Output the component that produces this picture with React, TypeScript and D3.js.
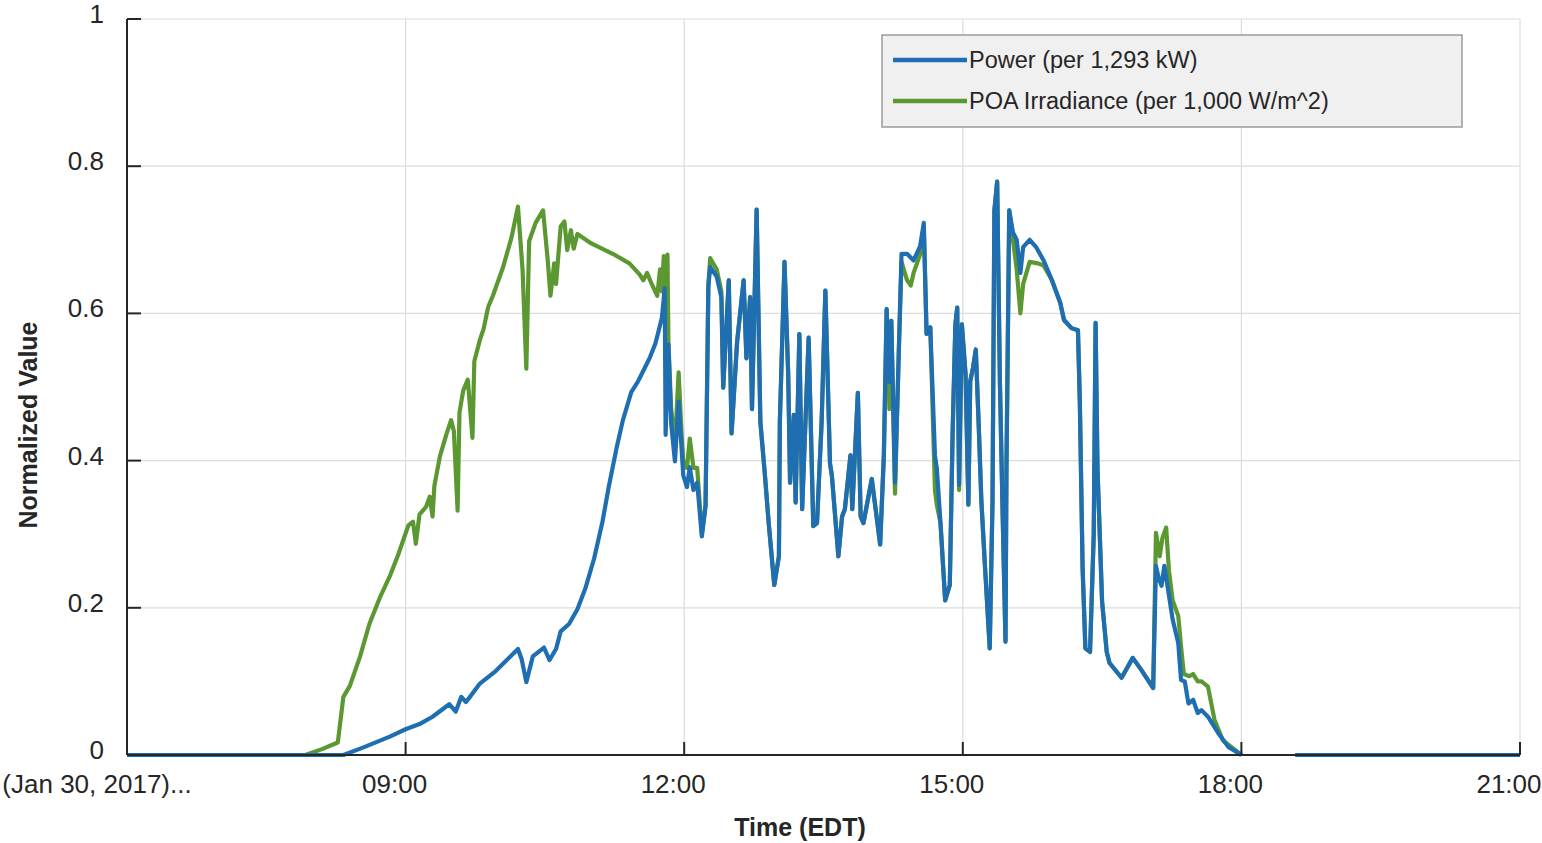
import React, { useEffect, useRef } from 'react'
import * as d3 from 'd3'

const WIDTH = 1542
const HEIGHT = 843
const BLUE = '#1f6eb2'
const GREEN = '#5b9832'

const timeTicks = [6, 9, 12, 15, 18, 21]
const timeTickLabels = ['(Jan 30, 2017)...', '09:00', '12:00', '15:00', '18:00', '21:00']
const valueTicks = [0, 0.2, 0.4, 0.6, 0.8, 1]
const valueTickLabels = ['0', '0.2', '0.4', '0.6', '0.8', '1']
const seriesLabels = ['Power (per 1,293 kW)', 'POA Irradiance (per 1,000 W/m^2)']

type Pt = [number, number | null]

// [hour of day (EDT), normalized value]; null marks the logger gap after sunset
const power: Pt[] = [
  [6.0, 0], [8.33, 0], [8.54, 0.01], [8.83, 0.025], [9.0, 0.035], [9.15, 0.042],
  [9.29, 0.052], [9.47, 0.069], [9.54, 0.059], [9.6, 0.079], [9.65, 0.072], [9.7, 0.08],
  [9.8, 0.097], [9.97, 0.114], [10.21, 0.144], [10.25, 0.13], [10.3, 0.099], [10.37, 0.134],
  [10.49, 0.146], [10.55, 0.129], [10.62, 0.144], [10.67, 0.168], [10.76, 0.178], [10.85, 0.198],
  [10.94, 0.228], [11.03, 0.267], [11.12, 0.317], [11.19, 0.366], [11.27, 0.416], [11.34, 0.455],
  [11.43, 0.493], [11.5, 0.507], [11.56, 0.522], [11.63, 0.54], [11.69, 0.559], [11.72, 0.574],
  [11.76, 0.594], [11.79, 0.634], [11.8, 0.435], [11.83, 0.558], [11.86, 0.45], [11.9, 0.399],
  [11.94, 0.48], [11.99, 0.38], [12.03, 0.364], [12.06, 0.391], [12.1, 0.36], [12.14, 0.37],
  [12.19, 0.297], [12.23, 0.338], [12.26, 0.636], [12.28, 0.663], [12.35, 0.65], [12.4, 0.622],
  [12.42, 0.499], [12.48, 0.645], [12.51, 0.437], [12.57, 0.562], [12.64, 0.645], [12.67, 0.539],
  [12.71, 0.622], [12.73, 0.47], [12.78, 0.741], [12.82, 0.453], [12.87, 0.379], [12.91, 0.315],
  [12.97, 0.231], [13.02, 0.27], [13.03, 0.453], [13.08, 0.67], [13.12, 0.517], [13.14, 0.37],
  [13.18, 0.462], [13.2, 0.343], [13.24, 0.572], [13.27, 0.334], [13.34, 0.567], [13.39, 0.311],
  [13.43, 0.315], [13.48, 0.453], [13.52, 0.631], [13.57, 0.396], [13.59, 0.38], [13.66, 0.27],
  [13.7, 0.324], [13.73, 0.334], [13.79, 0.407], [13.81, 0.334], [13.87, 0.492], [13.9, 0.324],
  [13.93, 0.315], [14.02, 0.375], [14.11, 0.286], [14.15, 0.407], [14.18, 0.606], [14.21, 0.507],
  [14.23, 0.59], [14.27, 0.37], [14.31, 0.544], [14.34, 0.681], [14.4, 0.681], [14.47, 0.672],
  [14.54, 0.691], [14.58, 0.723], [14.61, 0.572], [14.65, 0.581], [14.7, 0.407], [14.72, 0.39],
  [14.76, 0.315], [14.81, 0.21], [14.86, 0.231], [14.89, 0.435], [14.92, 0.585], [14.94, 0.608],
  [14.96, 0.367], [14.99, 0.585], [15.03, 0.517], [15.06, 0.34], [15.08, 0.508], [15.11, 0.526],
  [15.14, 0.551], [15.17, 0.453], [15.2, 0.345], [15.24, 0.254], [15.29, 0.145], [15.32, 0.345],
  [15.34, 0.74], [15.37, 0.779], [15.4, 0.504], [15.43, 0.322], [15.46, 0.154], [15.47, 0.39],
  [15.5, 0.74], [15.54, 0.71], [15.58, 0.7], [15.62, 0.655], [15.65, 0.69], [15.72, 0.7],
  [15.79, 0.69], [15.87, 0.672], [15.96, 0.645], [16.05, 0.614], [16.09, 0.591], [16.17, 0.58],
  [16.24, 0.577], [16.26, 0.481], [16.29, 0.254], [16.32, 0.145], [16.37, 0.14], [16.41, 0.3],
  [16.43, 0.587], [16.45, 0.39], [16.5, 0.208], [16.55, 0.14], [16.58, 0.125], [16.71, 0.105],
  [16.83, 0.132], [16.92, 0.116], [17.05, 0.091], [17.08, 0.257], [17.11, 0.24], [17.14, 0.23],
  [17.17, 0.257], [17.21, 0.225], [17.26, 0.184], [17.32, 0.152], [17.35, 0.102], [17.39, 0.1],
  [17.43, 0.07], [17.48, 0.075], [17.53, 0.057], [17.57, 0.061], [17.64, 0.052], [17.75, 0.03],
  [17.86, 0.011], [18.0, 0], [18.3, null], [18.58, 0], [21.0, 0],
]

const poaIrradiance: Pt[] = [
  [6.0, 0], [7.92, 0], [8.1, 0.008], [8.27, 0.017], [8.33, 0.079], [8.4, 0.094],
  [8.51, 0.134], [8.61, 0.178], [8.72, 0.213], [8.83, 0.243], [8.92, 0.272], [9.03, 0.312],
  [9.08, 0.317], [9.11, 0.287], [9.15, 0.327], [9.22, 0.337], [9.26, 0.351], [9.29, 0.324],
  [9.31, 0.366], [9.37, 0.406], [9.44, 0.436], [9.49, 0.455], [9.52, 0.44], [9.56, 0.332],
  [9.58, 0.465], [9.62, 0.495], [9.67, 0.51], [9.72, 0.431], [9.74, 0.535], [9.8, 0.564],
  [9.84, 0.579], [9.89, 0.609], [9.94, 0.624], [10.05, 0.663], [10.14, 0.703], [10.21, 0.745],
  [10.26, 0.658], [10.3, 0.525], [10.33, 0.698], [10.4, 0.723], [10.48, 0.74], [10.53, 0.673],
  [10.56, 0.624], [10.6, 0.668], [10.62, 0.64], [10.67, 0.718], [10.71, 0.725], [10.74, 0.686],
  [10.78, 0.713], [10.81, 0.688], [10.85, 0.708], [11.0, 0.695], [11.23, 0.681], [11.41, 0.668],
  [11.52, 0.653], [11.56, 0.645], [11.6, 0.655], [11.65, 0.64], [11.71, 0.624], [11.74, 0.66],
  [11.76, 0.63], [11.78, 0.678], [11.8, 0.62], [11.82, 0.68], [11.83, 0.56], [11.86, 0.47],
  [11.9, 0.42], [11.94, 0.52], [11.97, 0.44], [11.99, 0.4], [12.03, 0.39], [12.06, 0.43],
  [12.1, 0.39], [12.14, 0.39], [12.19, 0.3], [12.23, 0.34], [12.26, 0.64], [12.28, 0.675],
  [12.35, 0.66], [12.4, 0.63], [12.42, 0.499], [12.48, 0.645], [12.51, 0.437], [12.57, 0.562],
  [12.64, 0.645], [12.67, 0.539], [12.71, 0.622], [12.73, 0.47], [12.78, 0.741], [12.82, 0.453],
  [12.87, 0.379], [12.91, 0.315], [12.97, 0.231], [13.02, 0.27], [13.03, 0.453], [13.08, 0.67],
  [13.12, 0.517], [13.14, 0.37], [13.18, 0.462], [13.2, 0.343], [13.24, 0.572], [13.27, 0.334],
  [13.34, 0.567], [13.39, 0.311], [13.43, 0.315], [13.48, 0.453], [13.52, 0.631], [13.57, 0.396],
  [13.59, 0.38], [13.66, 0.27], [13.7, 0.324], [13.73, 0.334], [13.79, 0.407], [13.81, 0.334],
  [13.87, 0.492], [13.9, 0.324], [13.93, 0.315], [14.02, 0.375], [14.11, 0.286], [14.15, 0.407],
  [14.18, 0.606], [14.21, 0.47], [14.23, 0.59], [14.27, 0.355], [14.31, 0.544], [14.34, 0.67],
  [14.4, 0.645], [14.44, 0.638], [14.47, 0.655], [14.54, 0.68], [14.58, 0.715], [14.61, 0.572],
  [14.65, 0.581], [14.7, 0.36], [14.72, 0.34], [14.76, 0.315], [14.81, 0.21], [14.86, 0.231],
  [14.89, 0.435], [14.92, 0.585], [14.94, 0.608], [14.96, 0.36], [14.99, 0.585], [15.03, 0.517],
  [15.06, 0.34], [15.08, 0.508], [15.11, 0.526], [15.14, 0.551], [15.17, 0.453], [15.2, 0.345],
  [15.24, 0.254], [15.29, 0.145], [15.32, 0.345], [15.34, 0.74], [15.37, 0.779], [15.4, 0.504],
  [15.43, 0.322], [15.46, 0.154], [15.47, 0.39], [15.5, 0.74], [15.54, 0.7], [15.58, 0.66],
  [15.62, 0.6], [15.65, 0.64], [15.72, 0.67], [15.81, 0.668], [15.87, 0.665], [15.96, 0.645],
  [16.05, 0.614], [16.09, 0.591], [16.17, 0.58], [16.24, 0.577], [16.26, 0.481], [16.29, 0.254],
  [16.32, 0.145], [16.37, 0.14], [16.41, 0.3], [16.43, 0.587], [16.45, 0.39], [16.5, 0.208],
  [16.55, 0.14], [16.58, 0.125], [16.71, 0.105], [16.83, 0.132], [16.92, 0.116], [17.05, 0.091],
  [17.08, 0.302], [17.12, 0.27], [17.15, 0.295], [17.19, 0.309], [17.22, 0.25], [17.26, 0.21],
  [17.32, 0.189], [17.35, 0.148], [17.38, 0.11], [17.44, 0.107], [17.48, 0.11], [17.53, 0.1],
  [17.57, 0.1], [17.64, 0.093], [17.71, 0.048], [17.8, 0.02], [18.0, 0], [18.3, null],
  [18.58, 0], [21.0, 0],
]

export default function App() {
  const svgRef = useRef<SVGSVGElement>(null)

  useEffect(() => {
    document.body.style.margin = '0'
    const margin = { top: 19, right: 22, bottom: 88, left: 127 }
    const font = '"Liberation Sans", Arial, sans-serif'
    const ink = '#262626'

    const svg = d3.select(svgRef.current)
    svg.selectAll('*').remove()

    const x = d3.scaleLinear().domain([6, 21]).range([margin.left, WIDTH - margin.right])
    const y = d3.scaleLinear().domain([0, 1]).range([HEIGHT - margin.bottom, margin.top])

    // grid
    const grid = svg.append('g').attr('stroke', '#dcdcdc').attr('stroke-width', 1.2)
    grid.selectAll('.gx')
      .data(timeTicks.slice(1))
      .join('line')
      .attr('x1', (d) => x(d)).attr('x2', (d) => x(d))
      .attr('y1', y(0)).attr('y2', y(1))
    grid.selectAll('.gy')
      .data(valueTicks.slice(1))
      .join('line')
      .attr('x1', x(6)).attr('x2', x(21))
      .attr('y1', (d) => y(d)).attr('y2', (d) => y(d))

    // series (irradiance under power)
    const line = d3.line<Pt>()
      .defined((d) => d[1] !== null)
      .x((d) => x(d[0]))
      .y((d) => y(d[1] as number))

    svg.append('path')
      .datum(poaIrradiance)
      .attr('d', line)
      .attr('fill', 'none')
      .attr('stroke', GREEN)
      .attr('stroke-width', 4.2)
      .attr('stroke-linejoin', 'round')

    svg.append('path')
      .datum(power)
      .attr('d', line)
      .attr('fill', 'none')
      .attr('stroke', BLUE)
      .attr('stroke-width', 4.2)
      .attr('stroke-linejoin', 'round')

    // axes
    const axes = svg.append('g').attr('stroke', ink).attr('stroke-width', 2)
    axes.append('line').attr('x1', x(6)).attr('x2', x(21)).attr('y1', y(0)).attr('y2', y(0))
    axes.append('line').attr('x1', x(6)).attr('x2', x(6)).attr('y1', y(0)).attr('y2', y(1))
    axes.selectAll('.tx')
      .data(timeTicks)
      .join('line')
      .attr('x1', (d) => x(d)).attr('x2', (d) => x(d))
      .attr('y1', y(0)).attr('y2', y(0) - 13)
    axes.selectAll('.ty')
      .data(valueTicks)
      .join('line')
      .attr('x1', x(6)).attr('x2', x(6) + 14)
      .attr('y1', (d) => y(d)).attr('y2', (d) => y(d))

    svg.append('g')
      .selectAll('text')
      .data(timeTicks)
      .join('text')
      .attr('x', (d, i) => x(d) - (i === 0 ? 30 : 11))
      .attr('y', y(0) + 38)
      .attr('text-anchor', 'middle')
      .attr('font-family', font)
      .attr('font-size', 26)
      .attr('fill', ink)
      .text((_, i) => timeTickLabels[i])

    svg.append('g')
      .selectAll('text')
      .data(valueTicks)
      .join('text')
      .attr('x', x(6) - 23)
      .attr('y', (d) => y(d) + 4)
      .attr('text-anchor', 'end')
      .attr('font-family', font)
      .attr('font-size', 26)
      .attr('fill', ink)
      .text((_, i) => valueTickLabels[i])

    svg.append('text')
      .attr('x', 800)
      .attr('y', 836)
      .attr('text-anchor', 'middle')
      .attr('font-family', font)
      .attr('font-size', 25)
      .attr('font-weight', 'bold')
      .attr('fill', ink)
      .text('Time (EDT)')

    svg.append('text')
      .attr('transform', 'translate(37,425) rotate(-90)')
      .attr('text-anchor', 'middle')
      .attr('font-family', font)
      .attr('font-size', 25)
      .attr('font-weight', 'bold')
      .attr('fill', ink)
      .text('Normalized Value')

    // legend
    const legend = svg.append('g').attr('transform', 'translate(882,35)')
    legend.append('rect')
      .attr('width', 580)
      .attr('height', 92)
      .attr('fill', '#f0f0f0')
      .attr('stroke', '#9c9c9c')
      .attr('stroke-width', 1.5)
    const items = legend.selectAll('g')
      .data([BLUE, GREEN])
      .join('g')
      .attr('transform', (_, i) => `translate(0,${25 + i * 41})`)
    items.append('line')
      .attr('x1', 11).attr('x2', 85)
      .attr('stroke', (d) => d)
      .attr('stroke-width', 4.5)
    items.append('text')
      .attr('x', 87)
      .attr('y', 8)
      .attr('font-family', font)
      .attr('font-size', 23.5)
      .attr('fill', ink)
      .text((_, i) => seriesLabels[i])
  }, [])

  return (
    <svg
      ref={svgRef}
      width={WIDTH}
      height={HEIGHT}
      viewBox={`0 0 ${WIDTH} ${HEIGHT}`}
      style={{ display: 'block', background: '#fff' }}
    />
  )
}
